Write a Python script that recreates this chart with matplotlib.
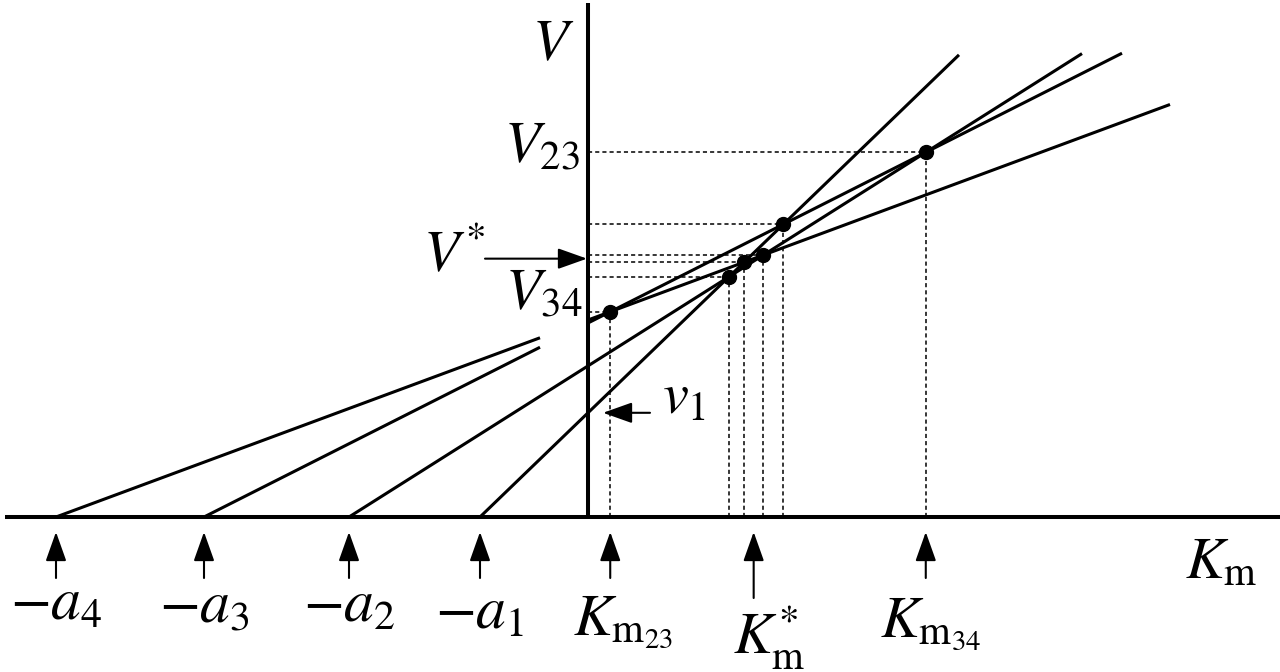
import itertools
import numpy as np
import matplotlib
matplotlib.use('Agg')
import matplotlib.pyplot as plt

plt.rcParams['mathtext.fontset'] = 'stix'
plt.rcParams['font.family'] = ['STIXGeneral', 'DejaVu Serif']

# Datos: cada observacion (a_i, v_i) define una recta V = v_i * (1 + K/a_i)
a_vals = [1.08, 2.39, 3.84, 5.32]
v_vals = [1.042, 1.511, 1.94, 1.97]
x_end = [3.71, 4.94, 5.34, 5.82]          # hasta donde se dibuja cada recta
a_labels = [r'$-a_1$', r'$-a_2$', r'$-a_3$', r'$-a_4$']
a_label_base = [-1.12, -1.05, -1.05, -1.03]

# Intersecciones de todas las parejas de rectas
puntos = {}
for i, j in itertools.combinations(range(4), 2):
    k = (v_vals[j] - v_vals[i]) / (v_vals[i] / a_vals[i] - v_vals[j] / a_vals[j])
    puntos[(i, j)] = (k, v_vals[i] * (1 + k / a_vals[i]))

k_star = np.median([p[0] for p in puntos.values()])
v_star = np.median([p[1] for p in puntos.values()])
k_23 = puntos[(2, 3)][0]   # recta 3 con recta 4
k_34 = puntos[(1, 2)][0]   # recta 2 con recta 3

fig = plt.figure(figsize=(12.8, 6.72), dpi=100)
ax = fig.add_axes([0, 0, 1, 1])
ax.set_xlim(-5.88, 6.92)
ax.set_ylim(-1.55, 5.17)
ax.axis('off')

# Ejes
ax.plot([-5.83, 6.92], [0, 0], color='black', lw=2.9, solid_capstyle='butt')
ax.plot([0, 0], [0, 5.14], color='black', lw=2.9, solid_capstyle='butt')

# Rectas (las dos de menor pendiente se cortan antes del eje para dejar sitio)
for i, (a, v) in enumerate(zip(a_vals, v_vals)):
    f = lambda x: v * (1 + x / a)
    if i >= 2:
        xs = np.array([-a, -0.48])
        ax.plot(xs, f(xs), color='black', lw=2.2, solid_capstyle='butt')
        xs = np.array([0, x_end[i]])
    else:
        xs = np.array([-a, x_end[i]])
    ax.plot(xs, f(xs), color='black', lw=2.2, solid_capstyle='butt')

# Lineas punteadas y puntos de corte
for k, v in puntos.values():
    ax.plot([0, k], [v, v], color='black', lw=1.1, linestyle=(0, (2.7, 2)))
    ax.plot([k, k], [0, v], color='black', lw=1.1, linestyle=(0, (2.7, 2)))
    ax.plot(k, v, 'o', color='black', markersize=10)

arrow = dict(arrowstyle='-|>,head_length=0.9,head_width=0.32', color='black',
             lw=1.5, mutation_scale=20, shrinkA=0, shrinkB=0)

# Flechas bajo el eje horizontal
for a, lab, yb in zip(a_vals, a_labels, a_label_base):
    ax.annotate('', xy=(-a, -0.15), xytext=(-a, -0.61), arrowprops=arrow)
    ax.text(-a, yb, lab, fontsize=43, ha='center', va='baseline')

ax.annotate('', xy=(k_23, -0.15), xytext=(k_23, -0.61), arrowprops=arrow)
ax.annotate('', xy=(k_34, -0.15), xytext=(k_34, -0.61), arrowprops=arrow)
ax.annotate('', xy=(k_star, -0.15), xytext=(k_star, -0.81), arrowprops=arrow)
ax.text(-0.15, -1.18, r'$K_{\mathrm{m}_{23}}$', fontsize=42, ha='left', va='baseline')
ax.text(1.45, -1.37, r'$K^{*}_{\mathrm{m}}$', fontsize=42, ha='left', va='baseline')
ax.text(2.92, -1.20, r'$K_{\mathrm{m}_{34}}$', fontsize=42, ha='left', va='baseline')
ax.text(5.97, -0.61, r'$K_{\mathrm{m}}$', fontsize=42, ha='left', va='baseline')

# Etiquetas del eje vertical
ax.text(-0.35, 4.57, r'$V$', fontsize=42, ha='center', va='baseline')
ax.text(-0.08, 3.54, r'$V_{23}$', fontsize=42, ha='right', va='baseline')
ax.text(-1.65, 2.45, r'$V^{*}$', fontsize=42, ha='left', va='baseline')
ax.annotate('', xy=(-0.01, v_star), xytext=(-1.03, v_star), arrowprops=arrow)
ax.text(-0.06, 2.07, r'$V_{34}$', fontsize=42, ha='right', va='baseline')
ax.annotate('', xy=(0.15, v_vals[0]), xytext=(0.62, v_vals[0]), arrowprops=arrow)
ax.text(0.74, 1.04, r'$v_1$', fontsize=42, ha='left', va='baseline')

plt.savefig('out.png', dpi=100)
plt.close()
